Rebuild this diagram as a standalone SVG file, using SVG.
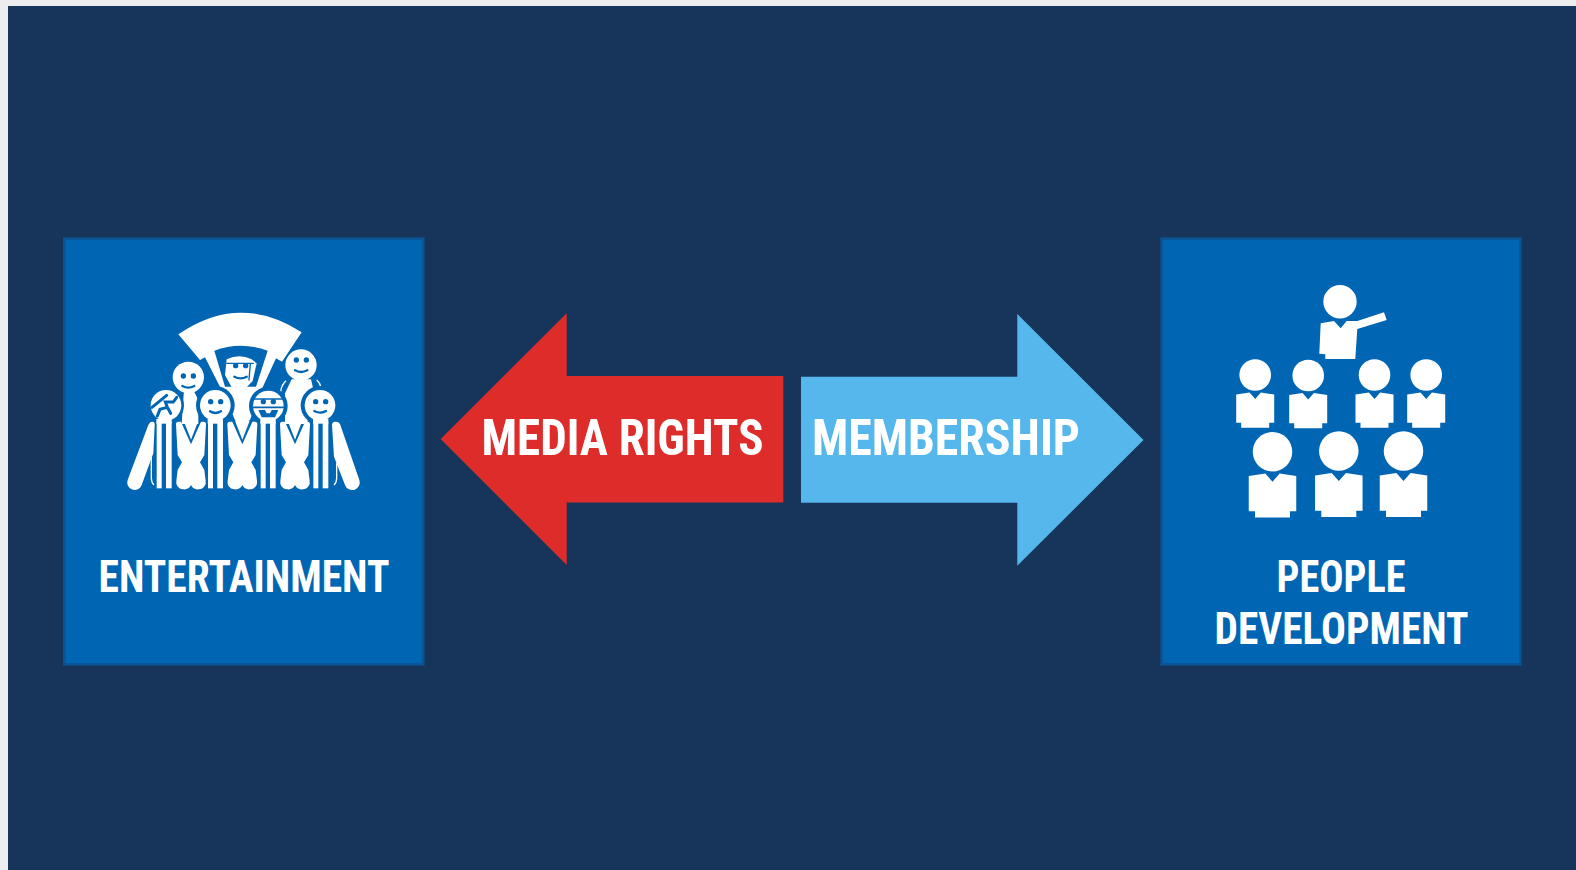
<svg xmlns="http://www.w3.org/2000/svg" width="1576" height="870" viewBox="0 0 1576 870">
<style>
.box{fill:#0066b3;stroke:#0b5290;stroke-width:2.5}
.t{font-family:"Roboto Condensed","Liberation Sans Narrow","Liberation Sans",sans-serif;font-weight:700;fill:#fff}
.l{font-size:45px}
.a{font-size:50.5px}
.w{fill:#fff}
.b{fill:#0066b3}
.ln{fill:none;stroke:#0066b3;stroke-linecap:round}
</style>
<defs>
<g id="p" class="w"><circle cx="0" cy="0" r="15.8"/><path d="M-19 19.5 L-5.7 17.5 L0 24 L5.7 17.5 L19 19.5 V47.7 H14 V52.7 H-14 V47.7 H-19Z"/></g>
<g id="x"><path class="w" d="M-45 8 Q-45 0 -38 0 H-30 L0 68 L30 0 H38 Q45 0 45 8 L40 100 L27 122 L40 145 L44 178 A21 21 0 0 1 23 203 A23 23 0 0 1 0 190 A23 23 0 0 1 -23 203 A21 21 0 0 1 -44 178 L-40 145 L-27 122 L-40 100Z"/><path class="w" d="M-21 -6 H21 V0 L0 54 L-21 0Z"/></g>
<g id="bars" class="w"><rect x="-22" y="0" width="15" height="200"/><rect x="6" y="0" width="17" height="200"/><rect x="-23" y="-8" width="46" height="14"/></g>
<g id="eyes" class="b"><circle cx="-15" cy="0" r="8"/><circle cx="15" cy="0" r="8"/></g>
</defs>
<rect width="1576" height="870" fill="#ededf0"/>
<rect x="8" y="6" width="1568" height="864" fill="#17355b"/>
<g id="entertainment"><rect class="box" x="64.3" y="238.5" width="359" height="426"/>
<g id="crowd" transform="translate(110 300) scale(.33333)">
<path class="w" d="M205 103 Q388 -24 575 97 L516 185 L498 175 L445 290 L420 360 H375 L345 290 L285 172 L270 180Z"/>
<path class="b" d="M313 152 Q392 122 473 152 L438 260 H345Z"/>
<path class="w" d="M350 178 Q388 160 425 178 L440 190 L428 243 L410 262 H365 L345 225Z"/>
<path class="ln" stroke-width="4" d="M350 190 H430 M421 192 L417 240"/>
<use href="#eyes" x="392" y="197"/>
<path class="ln" stroke-width="7" d="M373 230 Q392 240 410 230"/>
<path class="w" d="M222 270 H250 L265 300 V372 H215Z"/>
<circle class="w" cx="235" cy="232" r="47"/>
<use href="#eyes" x="235" y="228"/>
<path class="ln" stroke-width="7" d="M217 258 Q235 268 253 258"/>
<path class="w" d="M545 238 H603 L615 290 L590 372 H525 V280Z"/>
<path fill="none" stroke="#fff" stroke-width="4" d="M528 242 Q514 255 512 275 M620 240 Q630 248 632 260"/>
<circle class="w" cx="573" cy="195" r="47"/>
<use href="#eyes" x="574" y="180"/>
<path class="ln" stroke-width="7" d="M555 211 Q573 221 592 211"/>
<circle class="b" cx="168" cy="316" r="54"/>
<circle class="b" cx="316" cy="316" r="58"/>
<circle class="b" cx="475" cy="318" r="58"/>
<circle class="b" cx="630" cy="316" r="58"/>
<path class="w" d="M115 375 Q120 364 128 365 Q135 366 134 375 L130 460 L95 555 A22 22 0 0 1 53 540Z"/>
<path class="w" d="M690 372 Q686 364 675 365 Q666 366 666 375 L672 470 L705 555 A22 22 0 0 0 748 540Z"/>
<path fill="none" stroke="#fff" stroke-width="4" d="M124 470 V535 Q124 548 132 555 M680 490 V535 Q680 548 672 555"/>
<use href="#bars" x="162" y="365"/>
<use href="#bars" x="316" y="365"/>
<use href="#bars" x="474" y="365"/>
<use href="#bars" x="632" y="365"/>
<use href="#x" x="243" y="365"/>
<use href="#x" x="397" y="365"/>
<use href="#x" x="555" y="365"/>
<circle class="w" cx="168" cy="316" r="46"/>
<path class="ln" stroke-width="9" d="M126 322 L170 286 M142 348 L150 328 L172 322 L166 306 L190 306 L200 292 M172 322 L182 340"/>
<circle class="w" cx="316" cy="316" r="46"/>
<use href="#eyes" x="317" y="305"/>
<path class="ln" stroke-width="7" d="M300 334 Q316 344 333 334"/>
<circle class="w" cx="475" cy="318" r="46"/>
<use href="#eyes" x="475" y="305"/>
<path class="ln" stroke-width="5" d="M432 297 H518 M430 322 H520"/>
<path class="b" d="M445 330 H465 L470 340 H480 L485 330 H505 L495 352 H455Z"/>
<circle class="w" cx="630" cy="316" r="46"/>
<use href="#eyes" x="632" y="305"/>
<path class="ln" stroke-width="7" d="M613 333 Q631 343 648 333"/>
</g>
<text class="t l" x="98.5" y="592" textLength="291" lengthAdjust="spacingAndGlyphs">ENTERTAINMENT</text></g>
<g id="people"><rect class="box" x="1161.5" y="238.5" width="359" height="426"/>
<g id="group-icon">
<circle class="w" cx="1340" cy="301.7" r="16.7"/>
<path class="w" d="M1320.7 323.3 L1334 321 L1340.7 328.3 L1346.7 321 L1357.3 321 L1384 312.3 L1386.7 320 L1357.3 329 L1355.3 359 H1325.3 V354.3 L1319.3 353.7Z"/>
<use href="#p" x="1255.2" y="375"/>
<use href="#p" x="1308.2" y="375.5"/>
<use href="#p" x="1374.5" y="375"/>
<use href="#p" x="1426.2" y="375"/>
<use href="#p" transform="translate(1272.5 451.7) scale(1.25)"/>
<use href="#p" transform="translate(1338.8 451) scale(1.25)"/>
<use href="#p" transform="translate(1403.5 451) scale(1.25)"/>
</g>
<text class="t l" x="1276.5" y="592" textLength="129" lengthAdjust="spacingAndGlyphs">PEOPLE</text>
<text class="t l" x="1214.5" y="644" textLength="254" lengthAdjust="spacingAndGlyphs">DEVELOPMENT</text></g>
<g id="connectors">
<g id="media"><path fill="#dd2c29" d="M440.7 439 L566.7 313.3 V376 H783.3 V502.5 H566.7 V565Z"/><text class="t a" x="481.5" y="455" textLength="282" lengthAdjust="spacingAndGlyphs">MEDIA RIGHTS</text></g>
<g id="membership"><path fill="#55b7ec" d="M801 376.7 H1017.3 V314 L1143.5 440 L1017.3 565.7 V502.7 H801Z"/><text class="t a" x="812" y="455" textLength="268" lengthAdjust="spacingAndGlyphs">MEMBERSHIP</text></g>
</g>
</svg>
